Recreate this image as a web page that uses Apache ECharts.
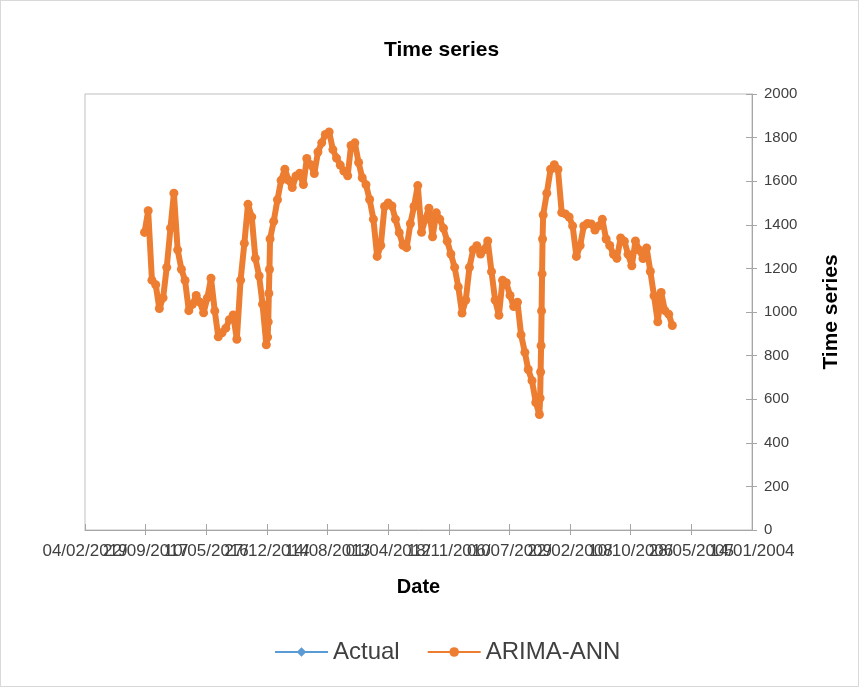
<!DOCTYPE html>
<html>
<head>
<meta charset="utf-8">
<script src="https://cdn.jsdelivr.net/npm/echarts@6/dist/echarts.min.js"></script>
<style>
html,body{margin:0;padding:0;background:#fff;}
#chart{width:859px;height:687px;box-sizing:border-box;border:1px solid #D9D9D9;}
</style>
</head>
<body>
<div id="chart"></div>
<script>
const dates = [
'2005-11-01','2005-12-01',
'2006-01-01','2006-02-01','2006-03-01','2006-04-01','2006-05-01','2006-06-01','2006-07-01','2006-08-01','2006-09-01','2006-10-01','2006-11-01','2006-12-01',
'2007-01-01','2007-02-01','2007-03-01','2007-04-01','2007-05-01','2007-06-01','2007-07-01','2007-08-01','2007-09-01','2007-10-01','2007-11-01','2007-12-01',
'2008-01-01','2008-02-01','2008-03-01','2008-04-01','2008-05-01','2008-06-01','2008-07-01','2008-08-01','2008-09-01','2008-10-01','2008-10-06','2008-10-10','2008-10-14','2008-10-18','2008-10-22','2008-10-26','2008-11-01','2008-12-01',
'2009-01-01','2009-02-01','2009-03-01','2009-04-01','2009-05-01','2009-06-01','2009-07-01','2009-08-01','2009-09-01','2009-10-01','2009-11-01','2009-12-01',
'2010-01-01','2010-02-01','2010-03-01','2010-04-01','2010-05-01','2010-06-01','2010-07-01','2010-08-01','2010-09-01','2010-10-01','2010-11-01','2010-12-01',
'2011-01-01','2011-02-01','2011-03-01','2011-04-01','2011-05-01','2011-06-01','2011-07-01','2011-08-01','2011-09-01','2011-10-01','2011-11-01','2011-12-01',
'2012-01-01','2012-02-01','2012-03-01','2012-04-01','2012-05-01','2012-06-01','2012-07-01','2012-08-01','2012-09-01','2012-10-01','2012-11-01','2012-12-01',
'2013-01-01','2013-02-01','2013-03-01','2013-04-01','2013-05-01','2013-06-01','2013-07-01','2013-08-01','2013-09-01','2013-10-01','2013-11-01','2013-12-01',
'2014-01-01','2014-02-01','2014-03-01','2014-04-01','2014-05-01','2014-06-01','2014-07-01','2014-08-01','2014-09-01','2014-10-01','2014-11-01','2014-12-01','2014-12-06','2014-12-11','2014-12-16','2014-12-21',
'2015-01-01','2015-02-01','2015-03-01','2015-04-01','2015-05-01','2015-06-01','2015-07-01','2015-08-01','2015-09-01','2015-10-01','2015-11-01','2015-12-01',
'2016-01-01','2016-02-01','2016-03-01','2016-04-01','2016-05-01','2016-06-01','2016-07-01','2016-08-01','2016-09-01','2016-10-01','2016-11-01','2016-12-01',
'2017-01-01','2017-02-01','2017-03-01','2017-04-01','2017-05-01','2017-06-01','2017-07-01','2017-08-01','2017-09-01','2017-10-01'
];

const actual = [
933,995,
1000,1095,950,1080,1180,1300,1240,1290,1330,1207,1270,1320,
1345,1240,1270,1300,1340,1430,1390,1380,1400,1410,1400,1300,
1250,1400,1440,1445,1460,1660,1680,1650,1540,1450,1330,1180,1000,850,720,610,525,590,
680,740,810,900,1050,1020,1080,1130,1150,980,1060,1180,
1330,1280,1270,1300,1290,1200,1050,990,1120,1200,1270,1330,
1380,1430,1460,1340,1480,1420,1370,1585,1480,1410,1290,1310,
1360,1430,1490,1505,1480,1300,1250,1430,1520,1580,1620,1690,
1780,1760,1620,1650,1670,1710,1740,1830,1810,1780,1730,1630,
1680,1700,1580,1640,1620,1575,1600,1660,1600,1510,1420,1330,1200,1080,960,880,
845,1040,1160,1250,1440,1490,1310,1150,870,990,960,930,
900,890,1000,1160,1060,1000,1040,1080,1030,1010,1140,1200,
1280,1550,1380,1210,1060,1020,1120,1150,1470,1360
];

const arimaAnn = [
938,990,
1006,1090,955,1074,1186,1294,1245,1284,1326,1212,1265,1324,
1340,1246,1265,1305,1335,1425,1395,1376,1404,1406,1395,1305,
1255,1395,1436,1450,1456,1654,1676,1655,1545,1445,1335,1175,1005,845,725,605,530,585,
685,736,815,895,1045,1025,1076,1134,1146,985,1055,1185,
1326,1285,1266,1304,1286,1205,1055,995,1115,1205,1266,1325,
1384,1426,1455,1345,1476,1424,1366,1580,1484,1405,1295,1306,
1364,1426,1486,1500,1484,1305,1255,1426,1516,1584,1616,1686,
1776,1764,1625,1646,1674,1706,1745,1826,1814,1776,1734,1635,
1676,1704,1585,1636,1624,1571,1604,1655,1604,1515,1416,1335,1195,1085,955,885,
850,1036,1165,1246,1436,1494,1315,1146,875,986,965,926,
905,886,1005,1155,1065,996,1045,1076,1035,1006,1145,1196,
1285,1545,1385,1205,1065,1016,1125,1146,1465,1365
];

const xTickLabels = ['04/02/2019','22/09/2017','10/05/2016','27/12/2014','14/08/2013','01/04/2012','18/11/2010','06/07/2009','22/02/2008','10/10/2006','28/05/2005','14/01/2004'];

const EXCEL_EPOCH = Date.UTC(1899, 11, 30);
function toSerial(s) {
  const p = s.split('-').map(Number);
  return Math.round((Date.UTC(p[0], p[1] - 1, p[2]) - EXCEL_EPOCH) / 86400000);
}
function serialLabel(v) {
  const d = new Date(EXCEL_EPOCH + v * 86400000);
  const dd = String(d.getUTCDate()).padStart(2, '0');
  const mm = String(d.getUTCMonth() + 1).padStart(2, '0');
  return dd + '/' + mm + '/' + d.getUTCFullYear();
}

const X_MIN = 38000, X_MAX = 43500, X_STEP = 500;

const actualData = dates.map((d, i) => [toSerial(d), actual[i]]);
const arimaData = dates.map((d, i) => [toSerial(d), arimaAnn[i]]);

const font = 'Liberation Sans, Arial, sans-serif';
const axisColor = '#A6A6A6';
const xLabelStyle = {fontFamily: font, fontSize: 17, color: '#404040'};

const chart = echarts.init(document.getElementById('chart'), null, {renderer: 'canvas'});
chart.setOption({
  animation: false,
  backgroundColor: '#fff',
  title: {
    text: 'Time series',
    left: 378,
    top: 34,
    textStyle: {fontFamily: font, fontSize: 21, fontWeight: 'bold', color: '#000'}
  },
  legend: {
    bottom: 17,
    left: 268,
    itemWidth: 53,
    itemHeight: 12,
    itemGap: 27,
    textStyle: {fontFamily: font, fontSize: 24, color: '#404040'},
    data: ['Actual', 'ARIMA-ANN']
  },
  grid: {
    left: 84, right: 106, top: 93, bottom: 156,
    show: true, borderColor: '#BFBFBF', borderWidth: 1, backgroundColor: 'transparent'
  },
  xAxis: [{
    type: 'value',
    min: X_MIN, max: X_MAX, interval: X_STEP,
    inverse: true,
    position: 'bottom',
    name: 'Date',
    nameLocation: 'middle',
    nameGap: 47,
    nameTextStyle: {fontFamily: font, fontSize: 20, fontWeight: 'bold', color: '#000'},
    axisLine: {show: true, lineStyle: {color: axisColor, width: 1}},
    axisTick: {show: true, inside: false, length: 5, lineStyle: {color: axisColor}},
    axisLabel: Object.assign({
      show: true, margin: 13, hideOverlap: false,
      showMinLabel: false, showMaxLabel: false,
      formatter: v => serialLabel(v)
    }, xLabelStyle),
    splitLine: {show: false}
  }, {
    type: 'value',
    min: X_MIN, max: X_MAX, interval: X_MAX - X_MIN,
    inverse: true,
    position: 'bottom',
    axisLine: {show: false},
    axisTick: {show: true, inside: true, length: 6, lineStyle: {color: axisColor}},
    axisLabel: Object.assign({
      show: true, margin: 13, hideOverlap: false,
      showMinLabel: true, showMaxLabel: true,
      formatter: v => serialLabel(v)
    }, xLabelStyle),
    splitLine: {show: false}
  }, {
    type: 'value',
    min: X_MIN, max: X_MAX, interval: X_STEP,
    inverse: true,
    position: 'bottom',
    axisLine: {show: false},
    axisTick: {show: true, inside: true, length: 6, lineStyle: {color: axisColor}},
    axisLabel: {show: false},
    splitLine: {show: false}
  }],
  yAxis: [{
    type: 'value',
    min: 0, max: 2000, interval: 200,
    position: 'right',
    name: 'Time series',
    nameLocation: 'middle',
    nameRotate: 90,
    nameGap: 69,
    nameTextStyle: {fontFamily: font, fontSize: 21, fontWeight: 'bold', color: '#000'},
    axisLine: {show: true, lineStyle: {color: axisColor, width: 1}},
    axisTick: {show: true, inside: false, length: 5, lineStyle: {color: axisColor}},
    axisLabel: {margin: 12, fontFamily: font, fontSize: 15, color: '#404040', formatter: v => String(v)},
    splitLine: {show: false}
  }, {
    type: 'value',
    min: 0, max: 2000, interval: 200,
    position: 'right',
    axisLine: {show: false},
    axisTick: {show: true, inside: true, length: 6, lineStyle: {color: axisColor}},
    axisLabel: {show: false},
    splitLine: {show: false}
  }],
  series: [{
    name: 'Actual',
    type: 'line',
    data: actualData,
    xAxisIndex: 0, yAxisIndex: 0,
    color: '#5B9BD5',
    lineStyle: {width: 3, color: '#5B9BD5'},
    symbol: 'diamond',
    symbolSize: 6,
    showAllSymbol: true,
    itemStyle: {color: '#5B9BD5'}
  }, {
    name: 'ARIMA-ANN',
    type: 'line',
    data: arimaData,
    xAxisIndex: 0, yAxisIndex: 0,
    color: '#ED7D31',
    lineStyle: {width: 6, color: '#ED7D31'},
    symbol: 'circle',
    symbolSize: 9,
    showAllSymbol: true,
    itemStyle: {color: '#ED7D31', borderWidth: 0}
  }]
});
</script>
</body>
</html>
